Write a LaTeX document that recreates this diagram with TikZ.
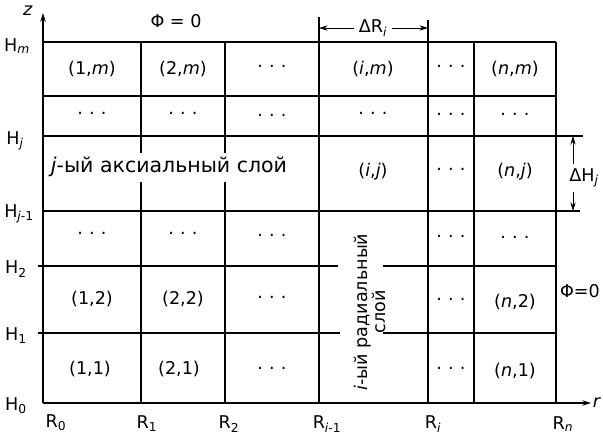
\documentclass[tikz,border=0pt]{standalone}
\usepackage{fontspec}
\setmainfont{DejaVu Sans}
\usetikzlibrary{arrows.meta}
\newcommand{\sub}[2]{#1\textsubscript{#2}}
\newcommand{\dotsrow}{·\hspace{0.35em}·\hspace{0.35em}·}

\begin{document}
\begin{tikzpicture}[x = 0.3mm, y = -0.3mm, line width = 1.2pt, >={Stealth[length=2.6mm, width=1.6mm]},
	every node/.style = {font = \fontsize{15}{16}\selectfont},
	layer/.style = {font = \fontsize{17.5}{19}\selectfont},
	dim/.style = {line width = 0.6pt}]
	\useasboundingbox (0,0) rectangle (603,439);
	% axes
	\node (z) at (28,11) {\textit{z}};
	\node [anchor = west, inner sep = 1pt] (r) at (591,403) {\textit{r}};
	\draw [->] (43,403) -- (43,13);
	\draw [->] (43,403) -- (r.west);
	% radial boundaries
	\draw (141,42) -- (141,153) (141,182) -- (141,403);
	\draw (225,42) -- (225,153) (225,182) -- (225,403);
	\draw (319,17) -- (319,403);
	\draw (428,20) -- (428,403);
	\draw (474,42) -- (474,403);
	\draw (556,42) -- (556,403);
	% axial boundaries
	\draw (43,42) -- (556,42);
	\draw (43,96) -- (556,96);
	\draw (43,136) -- (583,136);
	\draw (43,211) -- (580,211);
	\draw (38,266) -- (338,266) (383,266) -- (556,266);
	\draw (38,333) -- (340,333) (383,333) -- (556,333);
	% labels on the axes
	\node (hm) at (17,46) {\sub{H}{\textit{m}}};
	\node (hj) at (15,141) {\sub{H}{\textit{j}}};
	\node (hj1) at (19,214) {\sub{H}{\textit{j}-1}};
	\node (h2) at (16,269) {\sub{H}{2}};
	\node (h1) at (16,336) {\sub{H}{1}};
	\node (h0) at (16,406) {\sub{H}{0}};
	\node (r0) at (56,423) {\sub{R}{0}};
	\node (r1) at (147,424) {\sub{R}{1}};
	\node (r2) at (229,424) {\sub{R}{2}};
	\node (ri1) at (327,424) {\sub{R}{\textit{i}-1}};
	\node (ri) at (433,424) {\sub{R}{\textit{i}}};
	\node (rn) at (563,424) {\sub{R}{\textit{n}}};
	% boundary conditions
	\node (phitop) at (176,21) {Φ = 0};
	\node (phiright) at (580,291) {Φ=0};
	% cell sizes
	\node (dr) at (373,28) {Δ\sub{R}{\textit{i}}};
	\coordinate (drl) at (319,28);
	\coordinate (drr) at (428,28);
	\draw [dim, ->] (dr) -- (drl);
	\draw [dim, ->] (dr) -- (drr);
	\node (dh) at (584,178) {Δ\sub{H}{\textit{j}}};
	\coordinate (dht) at (573,136);
	\coordinate (dhb) at (573,211);
	\draw [dim, ->] (dh.north -| dht) -- (dht);
	\draw [dim, ->] (dh.south -| dhb) -- (dhb);
	% cells
	\node (c1m) at (92,69) {(1,\textit{m})};
	\node (c2m) at (183,69) {(2,\textit{m})};
	\node (c3m) at (272,69) {\dotsrow};
	\node (cim) at (373,69) {(\textit{i},\textit{m})};
	\node (ckm) at (451,69) {\dotsrow};
	\node (cnm) at (515,69) {(\textit{n},\textit{m})};
	\node (d1a) at (92,116) {\dotsrow};
	\node (d2a) at (183,116) {\dotsrow};
	\node (d3a) at (272,118) {\dotsrow};
	\node (dia) at (373,116) {\dotsrow};
	\node (dka) at (451,117) {\dotsrow};
	\node (dna) at (515,117) {\dotsrow};
	\node [layer] (axial) at (169,167) {\textit{j}-ый аксиальный слой};
	\node (cij) at (373,172) {(\textit{i},\textit{j})};
	\node (ckj) at (451,172) {\dotsrow};
	\node (cnj) at (515,172) {(\textit{n},\textit{j})};
	\node (d1b) at (92,236) {\dotsrow};
	\node (d2b) at (183,236) {\dotsrow};
	\node (d3b) at (272,238) {\dotsrow};
	\node (dkb) at (451,239) {\dotsrow};
	\node (dnb) at (515,240) {\dotsrow};
	\node (c12) at (92,299) {(1,2)};
	\node (c22) at (183,299) {(2,2)};
	\node (c32) at (272,300) {\dotsrow};
	\node (ck2) at (451,302) {\dotsrow};
	\node (cn2) at (515,302) {(\textit{n},2)};
	\node (c11) at (90,369) {(1,1)};
	\node (c21) at (179,369) {(2,1)};
	\node (c31) at (272,371) {\dotsrow};
	\node (ck1) at (451,371) {\dotsrow};
	\node (cn1) at (515,371) {(\textit{n},1)};
	\node [rotate = 90, align = center] (radial) at (370,312) {\textit{i}-ый радиальный\\слой};
\end{tikzpicture}
\end{document}
